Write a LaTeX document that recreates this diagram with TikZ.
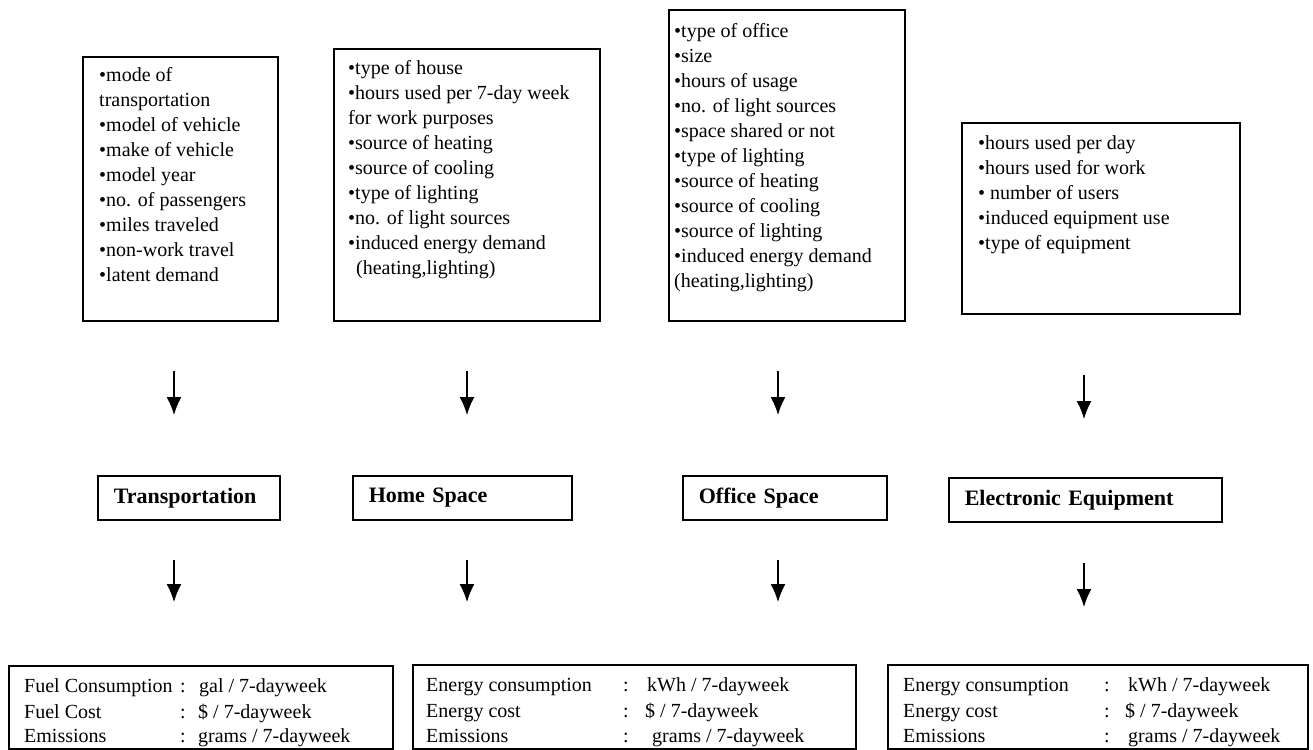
\documentclass[tikz,border=0pt]{standalone}
\usepackage{fontspec}
\setmainfont{Liberation Serif}
\usetikzlibrary{arrows.meta}
\begin{document}
\begin{tikzpicture}[x=1pt,y=-1pt,
  box/.style={draw, line width=1.6pt, inner sep=0pt, anchor=north west},
  listtxt/.style={anchor=north west, inner sep=0pt, align=left, font=\fontsize{20}{25}\selectfont},
  midbox/.style={draw, line width=1.6pt, anchor=north west, align=left, inner xsep=16pt, inner ysep=0pt,
    minimum height=44pt, font=\bfseries\fontsize{22}{26}\selectfont},
  cell/.style={anchor=base west, inner sep=0pt, font=\fontsize{20}{24}\selectfont},
  arr/.style={line width=1.5pt, -{Latex[length=18pt,width=15pt]}}]
\useasboundingbox (0,0) rectangle (1313,749);
\fill[white] (0,0) rectangle (1313,749);

% top input boxes
\node[box, minimum width=195pt, minimum height=264pt] (bA) at (82,56) {};
\node[box, minimum width=266pt, minimum height=272pt] (bB) at (333,48) {};
\node[box, minimum width=236pt, minimum height=311pt] (bC) at (668,9) {};
\node[box, minimum width=278pt, minimum height=191pt] (bD) at (961,122) {};

\node[listtxt] (tA) at (99,67) {\textbullet mode of\\transportation\\\textbullet model of vehicle\\\textbullet make of vehicle\\\textbullet model year\\\textbullet no. of passengers\\\textbullet miles traveled\\\textbullet non-work travel\\\textbullet latent demand};
\node[listtxt] (tB) at (348,60) {\textbullet type of house\\\textbullet hours used per 7-day week\\for work purposes\\\textbullet source of heating\\\textbullet source of cooling\\\textbullet type of lighting\\\textbullet no. of light sources\\\textbullet induced energy demand\\\hspace{8pt}(heating,lighting)};
\node[listtxt] (tC) at (674,23) {\textbullet type of office\\\textbullet size\\\textbullet hours of usage\\\textbullet no. of light sources\\\textbullet space shared or not\\\textbullet type of lighting\\\textbullet source of heating\\\textbullet source of cooling\\\textbullet source of lighting\\\textbullet induced energy demand\\(heating,lighting)};
\node[listtxt] (tD) at (978,135) {\textbullet hours used per day\\\textbullet hours used for work\\\textbullet\ number of users\\\textbullet induced equipment use\\\textbullet type of equipment};

% middle category boxes
\node[midbox, text width=150pt] (mA) at (97,475) {Transportation};
\node[midbox, text width=187pt] (mB) at (352,475) {Home Space};
\node[midbox, text width=172pt] (mC) at (682,475) {Office Space};
\node[midbox, text width=241pt] (mD) at (948,477) {Electronic Equipment};

% bottom result boxes
\node[box, minimum width=384pt, minimum height=83pt] (rA) at (8,665) {};
\node[box, minimum width=443pt, minimum height=84pt] (rB) at (412,664) {};
\node[box, minimum width=420pt, minimum height=84pt] (rC) at (887,664) {};

\node[cell] (rA1a) at (24,692) {Fuel Consumption};
\node[cell] (rA1b) at (180,692) {:};
\node[cell] (rA1c) at (199,692) {gal / 7-dayweek};
\node[cell] (rA2a) at (24,718) {Fuel Cost};
\node[cell] (rA2b) at (180,718) {:};
\node[cell] (rA2c) at (198,718) {\$ / 7-dayweek};
\node[cell] (rA3a) at (24,742) {Emissions};
\node[cell] (rA3b) at (180,742) {:};
\node[cell] (rA3c) at (198,742) {grams / 7-dayweek};

\node[cell] (rB1a) at (426,691) {Energy consumption};
\node[cell] (rB1b) at (623,691) {:};
\node[cell] (rB1c) at (647,691) {kWh / 7-dayweek};
\node[cell] (rB2a) at (426,717) {Energy cost};
\node[cell] (rB2b) at (623,717) {:};
\node[cell] (rB2c) at (645,717) {\$ / 7-dayweek};
\node[cell] (rB3a) at (426,742) {Emissions};
\node[cell] (rB3b) at (623,742) {:};
\node[cell] (rB3c) at (652,742) {grams / 7-dayweek};

\node[cell] (rC1a) at (903,691) {Energy consumption};
\node[cell] (rC1b) at (1104,691) {:};
\node[cell] (rC1c) at (1128,691) {kWh / 7-dayweek};
\node[cell] (rC2a) at (903,717) {Energy cost};
\node[cell] (rC2b) at (1104,717) {:};
\node[cell] (rC2c) at (1125,717) {\$ / 7-dayweek};
\node[cell] (rC3a) at (903,742) {Emissions};
\node[cell] (rC3b) at (1104,742) {:};
\node[cell] (rC3c) at (1128,742) {grams / 7-dayweek};

% arrows
\coordinate (u1s) at (174,371); \coordinate (u1e) at (174,415);
\coordinate (u2s) at (467,371); \coordinate (u2e) at (467,415);
\coordinate (u3s) at (778,371); \coordinate (u3e) at (778,415);
\coordinate (u4s) at (1084,375); \coordinate (u4e) at (1084,419);
\coordinate (l1s) at (174,560); \coordinate (l1e) at (174,602);
\coordinate (l2s) at (467,560); \coordinate (l2e) at (467,602);
\coordinate (l3s) at (778,560); \coordinate (l3e) at (778,602);
\coordinate (l4s) at (1084,563); \coordinate (l4e) at (1084,607);
\foreach \a in {u1,u2,u3,u4,l1,l2,l3,l4}
  \draw[arr] (\a s) -- (\a e);
\end{tikzpicture}
\end{document}
